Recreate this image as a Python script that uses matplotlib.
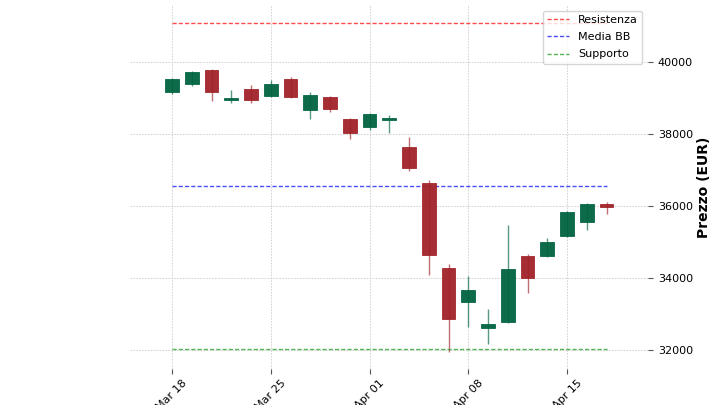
import matplotlib
matplotlib.use('Agg')

import matplotlib.pyplot as plt
import numpy as np
import pandas as pd

# dati (FTSE MIB, giorni di borsa)
date = pd.bdate_range('2025-03-18', '2025-04-17')
apertura = [39158, 39380, 39778, 38953, 39241, 39064, 39536, 38658, 39019, 38425, 38203, 38389,
            37630, 36647, 34286, 33342, 32619, 32769, 34611, 34611, 35166, 35547, 36055]
massimo = [39550, 39750, 39806, 39214, 39353, 39492, 39575, 39167, 39064, 38440, 38592, 38528,
           37925, 36714, 34397, 34047, 33147, 35472, 34658, 35103, 35860, 36080, 36119]
minimo = [39120, 39342, 38925, 38853, 38853, 39036, 39000, 38425, 38619, 37853, 38119, 38036,
          36981, 34083, 31944, 32647, 32167, 32750, 33575, 34583, 35150, 35333, 35778]
chiusura = [39519, 39714, 39158, 39008, 38936, 39380, 39019, 39083, 38703, 38019, 38547, 38453,
            37047, 34638, 32852, 33658, 32722, 34258, 33991, 34992, 35833, 36064, 35964]

resistenza = 41083
media_bb = 36556
supporto = 32028

tick_idx = [0, 5, 10, 15, 20]

col_su = '#006340'
col_giu = '#A02128'

fig = plt.figure(figsize=(7.2, 4.05), dpi=100)
ax = fig.add_axes([130 / 720, 36 / 405, 518 / 720, 364 / 405])

x = np.arange(len(date))
o = np.array(apertura)
c = np.array(chiusura)
colori = [col_su if cc >= oo else col_giu for oo, cc in zip(o, c)]

ax.vlines(x, minimo, massimo, colors=colori, linewidth=1, alpha=0.65, zorder=2)
ax.bar(x, np.maximum(np.abs(c - o), 40), bottom=np.minimum(o, c), width=0.7,
       color=colori, edgecolor=colori, linewidth=0.6, alpha=0.95, zorder=3)

# livelli orizzontali
ax.hlines(resistenza, x[0], x[-1], colors='red', linestyles=(0, (3, 1.5)), linewidth=1, alpha=0.7, label='Resistenza')
ax.hlines(media_bb, x[0], x[-1], colors='blue', linestyles=(0, (3, 1.5)), linewidth=1, alpha=0.7, label='Media BB')
ax.hlines(supporto, x[0], x[-1], colors='#2ca02c', linestyles=(0, (3, 1.5)), linewidth=1, alpha=0.8, label='Supporto')

ax.set_xlim(-2.13, 24.1)
ax.set_ylim(31472, 41583)

ax.set_xticks(tick_idx)
ax.set_xticklabels([date[i].strftime('%b %d') for i in tick_idx], rotation=45, fontsize=8)
ax.set_yticks([32000, 34000, 36000, 38000, 40000])
ax.yaxis.tick_right()
ax.yaxis.set_label_position('right')
ax.tick_params(axis='y', labelsize=8, length=3.5, color='#555555')
ax.tick_params(axis='x', length=3.5, color='#555555', pad=3)
ax.set_ylabel('Prezzo (EUR)', fontsize=10, fontweight='bold', labelpad=3)

for s in ax.spines.values():
    s.set_visible(False)

ax.grid(True, color='#cccccc', linestyle='--', linewidth=0.6, dashes=(2, 1.5))
ax.set_axisbelow(True)

leg = ax.legend(loc='upper right', fontsize=8, labelspacing=0.65, framealpha=0.8,
                edgecolor='#cccccc', fancybox=True)

plt.savefig('out.png', dpi=100)
plt.close(fig)
